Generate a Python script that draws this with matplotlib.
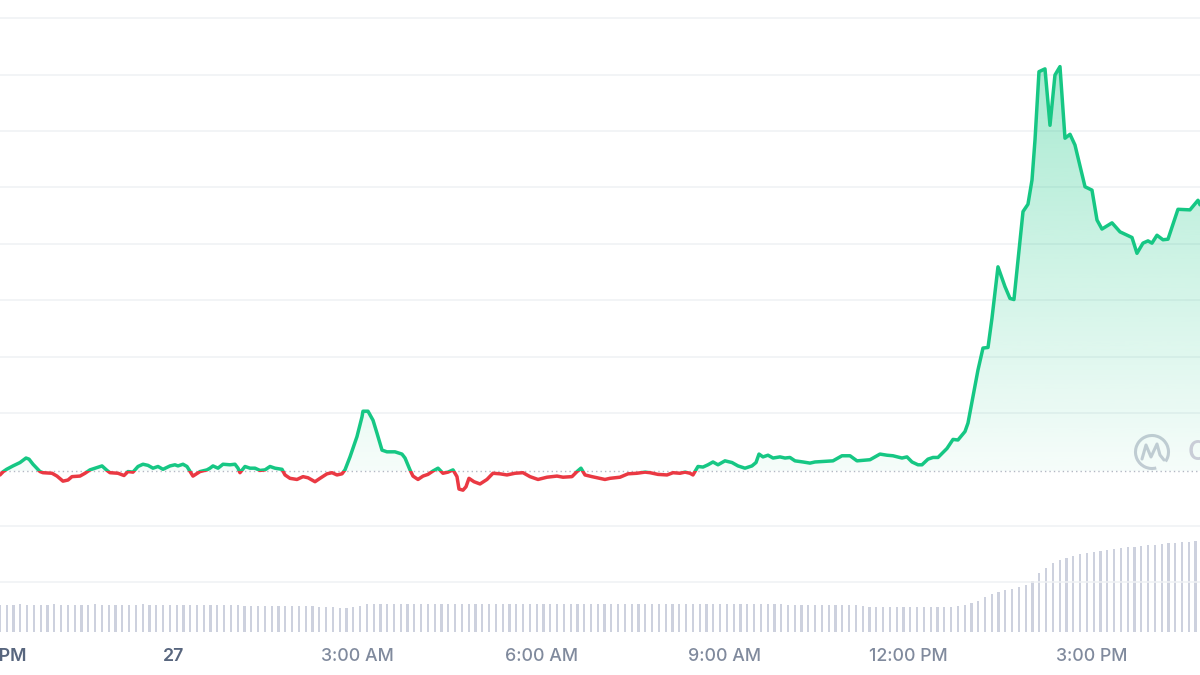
import numpy as np
import matplotlib
matplotlib.use("Agg")
import matplotlib.pyplot as plt
from matplotlib.path import Path
from matplotlib.patches import PathPatch, Arc, Rectangle
from matplotlib.colors import to_rgb

# ---------------- data ----------------
# time in hours relative to midnight of the 27th; price as index (baseline = 100)
hours = [-2.843, -2.789, -2.735, -2.631, -2.516, -2.418, -2.369, -2.304, -2.190, -2.141,
         -1.993, -1.912, -1.814, -1.732, -1.667, -1.536, -1.454, -1.373, -1.291, -1.176,
         -1.095, -1.046, -0.915, -0.817, -0.752, -0.670, -0.588, -0.507, -0.425, -0.343,
         -0.261, -0.180, -0.065, 0.016, 0.065, 0.147, 0.212, 0.310, 0.425, 0.539,
         0.588, 0.637, 0.719, 0.801, 0.915, 0.997, 1.046, 1.078, 1.160, 1.242,
         1.324, 1.405, 1.487, 1.569, 1.650, 1.765, 1.814, 1.895, 2.010, 2.108,
         2.190, 2.304, 2.386, 2.500, 2.582, 2.663, 2.745, 2.794, 2.876, 2.990,
         3.072, 3.088, 3.170, 3.252, 3.317, 3.399, 3.480, 3.611, 3.725, 3.775,
         3.856, 3.905, 3.987, 4.069, 4.150, 4.232, 4.314, 4.395, 4.477, 4.559,
         4.624, 4.657, 4.722, 4.771, 4.820, 4.902, 5.000, 5.114, 5.212, 5.327,
         5.441, 5.572, 5.703, 5.817, 5.948, 6.095, 6.258, 6.356, 6.503, 6.585,
         6.650, 6.716, 6.830, 6.961, 7.042, 7.124, 7.288, 7.418, 7.565, 7.696,
         7.778, 7.908, 8.056, 8.154, 8.268, 8.350, 8.431, 8.480, 8.529, 8.562,
         8.644, 8.725, 8.807, 8.889, 9.003, 9.118, 9.216, 9.330, 9.444, 9.510,
         9.559, 9.624, 9.706, 9.788, 9.902, 9.984, 10.065, 10.147, 10.278, 10.392,
         10.474, 10.768, 10.915, 11.046, 11.160, 11.373, 11.536, 11.650, 11.748, 11.895,
         11.977, 12.059, 12.157, 12.222, 12.320, 12.402, 12.484, 12.631, 12.729, 12.810,
         12.925, 12.974, 13.056, 13.137, 13.219, 13.301, 13.366, 13.464, 13.578, 13.660,
         13.725, 13.873, 13.954, 14.020, 14.069, 14.134, 14.232, 14.314, 14.395, 14.477,
         14.559, 14.641, 14.722, 14.886, 15.000, 15.082, 15.163, 15.327, 15.458, 15.654,
         15.735, 15.833, 15.915, 15.980, 16.062, 16.160, 16.242, 16.405, 16.601, 16.732,
         16.765]
price = [99.3, 99.9, 100.3, 100.9, 101.5, 102.3, 102.1, 101.2, 99.9, 99.7,
         99.6, 99.1, 98.2, 98.4, 99.0, 99.1, 99.6, 100.2, 100.5, 100.9,
         100.1, 99.7, 99.6, 99.2, 99.9, 99.8, 100.8, 101.2, 101.0, 100.5,
         100.8, 100.3, 100.9, 101.1, 100.9, 101.2, 100.8, 99.1, 99.9, 100.2,
         100.5, 100.9, 100.5, 101.2, 101.1, 101.2, 100.5, 99.7, 100.8, 100.5,
         100.5, 100.1, 100.2, 100.8, 100.5, 100.3, 99.3, 98.7, 98.5, 99.0,
         98.8, 98.1, 98.7, 99.5, 99.7, 99.3, 99.5, 100.2, 102.5, 106.1,
         109.6, 110.6, 110.6, 109.0, 106.7, 103.7, 103.4, 103.4, 103.0, 102.3,
         100.2, 99.1, 98.5, 99.1, 99.4, 100.0, 100.5, 99.6, 99.8, 100.2,
         99.0, 96.8, 96.6, 97.2, 98.7, 98.1, 97.7, 98.5, 99.6, 99.5,
         99.3, 99.6, 99.7, 99.0, 98.5, 98.9, 99.1, 98.9, 99.0, 99.9,
         100.5, 99.3, 99.0, 98.7, 98.5, 98.7, 98.9, 99.5, 99.6, 99.8,
         99.7, 99.4, 99.3, 99.7, 99.6, 99.8, 99.6, 99.3, 100.2, 100.8,
         100.7, 101.1, 101.6, 101.1, 101.8, 101.5, 100.9, 100.5, 100.9, 101.5,
         103.0, 102.5, 102.8, 102.3, 102.5, 102.3, 102.4, 101.8, 101.6, 101.4,
         101.6, 101.8, 102.7, 102.7, 101.8, 102.0, 103.0, 102.8, 102.7, 102.3,
         102.5, 101.6, 101.1, 101.1, 102.1, 102.4, 102.4, 104.0, 105.6, 105.5,
         107.0, 108.5, 113.2, 117.9, 121.8, 121.9, 127.1, 136.2, 132.7, 130.6,
         130.4, 146.0, 147.3, 151.6, 158.7, 170.8, 171.3, 161.3, 170.2, 171.7,
         159.0, 159.7, 157.8, 150.4, 149.8, 144.5, 142.9, 144.0, 142.4, 141.4,
         138.6, 140.4, 140.8, 140.4, 141.8, 141.0, 141.1, 146.4, 146.3, 148.0,
         147.2]
baseline = 100.0

# volume bars (arbitrary units), one every ~6.7 minutes
vol_start = -2.843
vol_step = 0.111
volume = [27, 27, 27, 28, 27, 27, 27, 27, 28, 27,
          27, 27, 27, 27, 28, 27, 27, 27, 27, 27,
          27, 28, 27, 27, 27, 27, 27, 27, 27, 27,
          27, 27, 27, 27, 27, 27, 26, 26, 26, 26,
          26, 26, 26, 26, 26, 26, 26, 25, 25, 25,
          24, 24, 25, 26, 28, 28, 28, 28, 28, 28,
          28, 28, 28, 28, 28, 28, 28, 28, 28, 28,
          28, 28, 28, 28, 28, 28, 28, 28, 28, 28,
          28, 28, 28, 28, 28, 28, 28, 28, 28, 28,
          28, 28, 28, 28, 28, 28, 28, 28, 28, 28,
          28, 28, 28, 28, 28, 28, 28, 28, 28, 28,
          28, 28, 28, 28, 28, 28, 27, 27, 27, 27,
          27, 27, 27, 27, 27, 27, 27, 26, 25, 25,
          25, 25, 25, 25, 25, 25, 25, 25, 25, 25,
          25, 26, 27, 29, 31, 35, 38, 40, 42, 43,
          45, 47, 51, 59, 64, 69, 72, 74, 76, 78,
          79, 80, 81, 82, 83, 84, 85, 85, 86, 87,
          87, 88, 89, 89, 90, 90, 91]

tick_hours = [-3, 0, 3, 6, 9, 12, 15]
tick_labels = ["9:00 PM", "27", "3:00 AM", "6:00 AM", "9:00 AM", "12:00 PM", "3:00 PM"]

# ---------------- styling ----------------
GREEN = "#16c784"
RED = "#ea3943"
GRID = "#eff1f4"
BAR = "#cdd1de"
LABEL = "#808a9d"
LABEL_DARK = "#58667e"

plt.rcParams["font.family"] = ["Inter", "DejaVu Sans"]

fig = plt.figure(figsize=(12, 6.75), dpi=100)
ax = fig.add_axes([0, 0, 1, 1])
xmin, xmax = -2.843, 16.765
ymin, ymax = 63.83, 183.51
ax.set_xlim(xmin, xmax)
ax.set_ylim(ymin, ymax)
ax.axis("off")

# volume axis
axv = ax.twinx()
axv.set_ylim(-43, 632)
axv.set_xlim(xmin, xmax)
axv.axis("off")
axv.set_zorder(0)
ax.set_zorder(1)
ax.patch.set_visible(False)

vol_t = vol_start + vol_step * np.arange(len(volume))
axv.bar(vol_t, volume, width=0.036, color=BAR, align="center", linewidth=0)

# gridlines
for g in [80.3, 90.3, 110.3, 120.3, 130.3, 140.3, 150.3, 160.3, 170.3, 180.3]:
    ax.axhline(g, color=GRID, lw=1.1, zorder=0)

hours_a = np.array(hours)
price_a = np.array(price)

# gradient fill above baseline
fb = ax.fill_between(hours_a, price_a, baseline, where=price_a >= baseline,
                     interpolate=True, facecolor="none", edgecolor="none")
clip_path = Path.make_compound_path(*fb.get_paths())
clip_patch = PathPatch(clip_path, transform=ax.transData, facecolor="none", edgecolor="none")
ax.add_patch(clip_patch)
n = 256
grad = np.zeros((n, 1, 4))
grad[:, 0, :3] = to_rgb(GREEN)
grad[:, 0, 3] = np.linspace(0.37, 0.04, n)
top = 172.0
im = ax.imshow(grad, extent=[xmin, xmax, baseline, top], origin="upper",
               aspect="auto", zorder=1, interpolation="bicubic")
im.set_clip_path(clip_patch)

# baseline dotted
ax.axhline(baseline, color="#b3b8c4", lw=1.0, linestyle=(0, (1, 2.2)), zorder=2)

# price line, green above baseline, red below
lg, = ax.plot(hours_a, price_a, color=GREEN, lw=2.5, zorder=3,
              solid_joinstyle="round", solid_capstyle="round")
lg.set_clip_path(Rectangle((xmin - 1, baseline), xmax - xmin + 2, 200, transform=ax.transData))
lr, = ax.plot(hours_a, price_a, color=RED, lw=2.5, zorder=3,
              solid_joinstyle="round", solid_capstyle="round")
lr.set_clip_path(Rectangle((xmin - 1, baseline - 200), xmax - xmin + 2, 200, transform=ax.transData))

# x labels
for h, lab in zip(tick_hours, tick_labels):
    dark = lab in ("27", "9:00 PM")
    ax.text(h, 0.028, lab, transform=ax.get_xaxis_transform(), ha="center", va="center",
            fontsize=12.8, color=LABEL_DARK if dark else LABEL,
            fontweight="semibold" if dark else "medium", zorder=5)

# watermark logo
wm = "#c9cdd7"
cx, cy, r = 11.52, (675 - 452) / 100, 0.165
arc = Arc((cx, cy), 2 * r, 2 * r, theta1=-35, theta2=285, transform=fig.dpi_scale_trans,
          color=wm, lw=2.2)
fig.add_artist(arc)
mverts = [(cx - 0.10, cy - 0.07), (cx - 0.06, cy + 0.07), (cx - 0.01, cy - 0.05),
          (cx + 0.05, cy + 0.08), (cx + 0.08, cy - 0.03), (cx + 0.12, cy - 0.08)]
mpath = Path(mverts)
fig.add_artist(PathPatch(mpath, transform=fig.dpi_scale_trans, facecolor="none",
                         edgecolor=wm, lw=2.2, capstyle="round", joinstyle="round"))
fig.text(11.88 / 12, (675 - 452) / 675, "CoinMarketCap", ha="left", va="center",
         fontsize=19, color=wm, fontweight="semibold")

fig.savefig("out.png", dpi=100)
